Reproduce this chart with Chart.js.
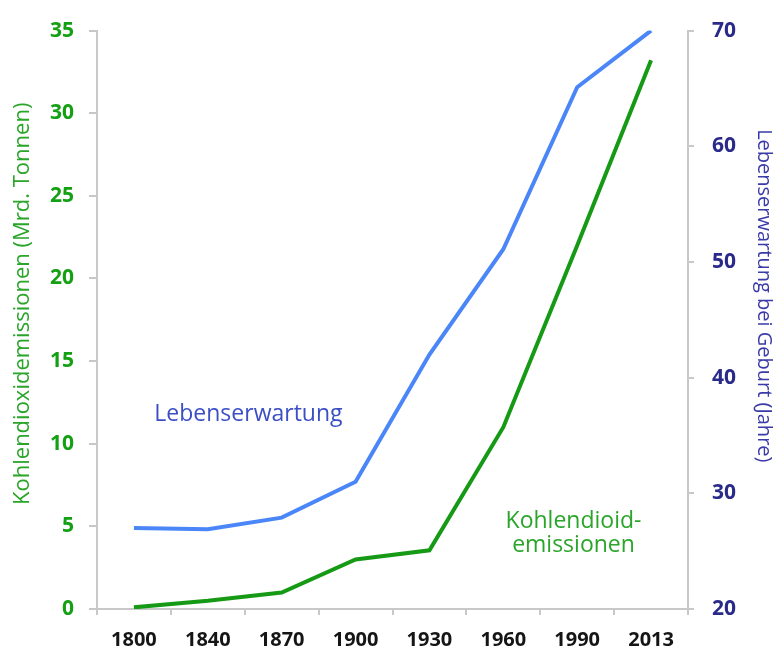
<!DOCTYPE html>
<html>
<head>
<meta charset="utf-8">
<script src="https://cdn.jsdelivr.net/npm/chart.js@4/dist/chart.umd.min.js"></script>
<style>
  html, body { margin:0; padding:0; background:#fff; }
  #wrap { width:778px; height:657px; }
</style>
</head>
<body>
<div id="wrap"><canvas id="chart" width="778" height="657"></canvas></div>
<script>
// values
const years = ["1800","1840","1870","1900","1930","1960","1990","2013"];
const co2 = [0.1, 0.5, 1.0, 3.0, 3.55, 11.0, 22.0, 33.2];       // Mrd. Tonnen
const lifeExp = [27.0, 26.9, 27.9, 31.0, 42.0, 51.1, 65.1, 70.0]; // Jahre
const leftTicks = [0, 5, 10, 15, 20, 25, 30, 35];
const rightTicks = [20, 30, 40, 50, 60, 70];

const GREEN = "#169a16";
const BLUE = "#4a86f7";
const FONT = "'Open Sans', 'Noto Sans', sans-serif";

// text inside the plot + the two axis titles (drawn here so they can sit a bit above centre)
const labelsPlugin = {
  id: "inlineLabels",
  afterDraw(chart) {
    const {ctx, scales, chartArea} = chart;
    ctx.save();
    ctx.textAlign = "center";
    ctx.textBaseline = "middle";
    ctx.font = "23px " + FONT;
    ctx.fillStyle = "#3b4fc4";
    ctx.fillText("Lebenserwartung", scales.x.getPixelForValue(1.55), scales.y.getPixelForValue(11.8));
    ctx.fillStyle = "#2aa52a";
    ctx.fillText("Kohlendioid-", scales.x.getPixelForValue(5.95), scales.y.getPixelForValue(5.3));
    ctx.fillText("emissionen", scales.x.getPixelForValue(5.95), scales.y.getPixelForValue(3.85));

    const midY = (chartArea.top + chartArea.bottom) / 2;
    // left title, reads bottom to top
    ctx.save();
    ctx.translate(23, midY - 16);
    ctx.rotate(-Math.PI / 2);
    ctx.font = "22px " + FONT;
    ctx.fillStyle = "#2aa52a";
    ctx.fillText("Kohlendioxidemissionen (Mrd. Tonnen)", 0, 0);
    ctx.restore();
    // right title, reads top to bottom
    ctx.save();
    ctx.translate(764, midY - 24);
    ctx.rotate(Math.PI / 2);
    ctx.font = "20px " + FONT;
    ctx.fillStyle = "#3a3aa8";
    ctx.fillText("Lebenserwartung bei Geburt (Jahre)", 0, 0);
    ctx.restore();
    ctx.restore();
  }
};

new Chart(document.getElementById("chart"), {
  type: "line",
  data: {
    labels: years,
    datasets: [
      { label: "Kohlendioxidemissionen", data: co2, yAxisID: "y",
        borderColor: GREEN, borderWidth: 4, pointRadius: 0, tension: 0 },
      { label: "Lebenserwartung", data: lifeExp, yAxisID: "y1",
        borderColor: BLUE, borderWidth: 4, pointRadius: 0, tension: 0 }
    ]
  },
  options: {
    responsive: false,
    animation: false,
    layout: { padding: { top: 28, left: 0, right: 0, bottom: 0 } },
    plugins: { legend: { display: false }, tooltip: { enabled: false } },
    scales: {
      x: {
        offset: true,
        afterFit(s) { s.height = 48; },
        border: { color: "#c8c8c8", width: 2 },
        grid: { display: true, drawOnChartArea: false, drawTicks: true, tickLength: 6, color: "#c8c8c8", lineWidth: 2, offset: true },
        ticks: { color: "#151515", padding: 13, maxRotation: 0, font: { family: FONT, size: 20, weight: "bold" } }
      },
      y: {
        position: "left",
        min: 0, max: 35,
        afterFit(s) { s.width = 97; },
        afterBuildTicks(s) { s.ticks = leftTicks.map(v => ({ value: v })); },
        border: { color: "#c8c8c8", width: 2 },
        grid: { display: true, drawOnChartArea: false, drawTicks: true, tickLength: 8, color: "#c8c8c8", lineWidth: 2 },
        ticks: { color: "#13a013", padding: 15, font: { family: FONT, size: 21, weight: "bold" } }
      },
      y1: {
        position: "right",
        min: 20, max: 70,
        afterFit(s) { s.width = 90; },
        afterBuildTicks(s) { s.ticks = rightTicks.map(v => ({ value: v })); },
        border: { color: "#c8c8c8", width: 2 },
        grid: { display: true, drawOnChartArea: false, drawTicks: true, tickLength: 6, color: "#c8c8c8", lineWidth: 2 },
        ticks: { color: "#2a2a8a", padding: 18, font: { family: FONT, size: 21, weight: "bold" } }
      }
    }
  },
  plugins: [labelsPlugin]
});
</script>
</body>
</html>
